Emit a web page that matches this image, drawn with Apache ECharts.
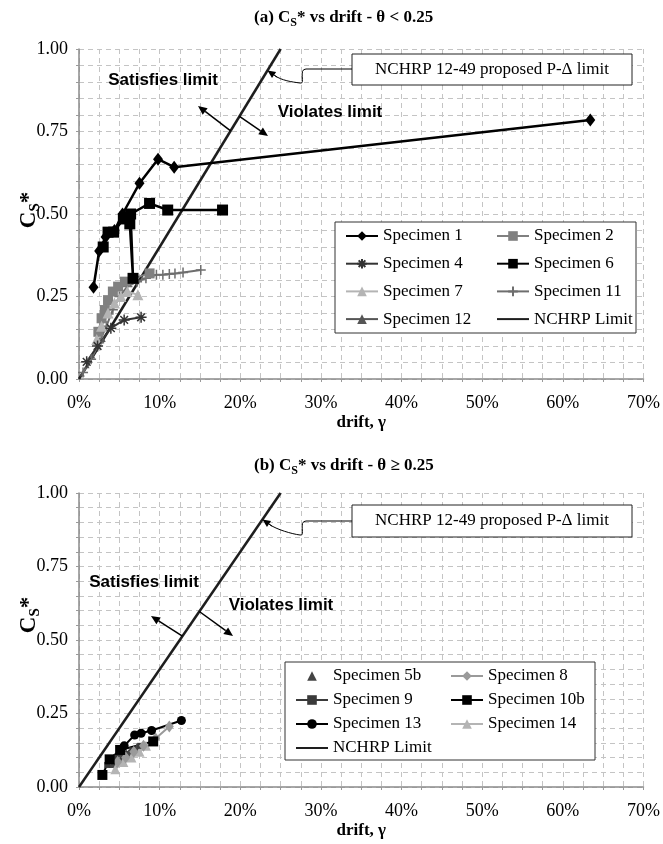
<!DOCTYPE html>
<html><head><meta charset="utf-8">
<script src="https://cdn.jsdelivr.net/npm/echarts@6/dist/echarts.min.js"></script>
<style>html,body{margin:0;padding:0;background:#fff}#c{width:663px;height:844px}</style>
</head><body><div id="c"></div>
<script>
// ---------- DATA (drift in %, Cs*) ----------
const xTicks = [0,10,20,30,40,50,60,70];
const yTicks = [0,0.25,0.5,0.75,1.0];
const limitDrift = [0, 25];
const limitCs = [0, 1.0];
// (a) theta < 0.25
const s1Drift = [1.8,2.5,3.3,4.4,5.4,7.5,9.8,11.8,63.4];
const s1Cs    = [0.278,0.388,0.43,0.45,0.50,0.593,0.666,0.642,0.785];
const s2Drift = [2.4,2.8,3.2,3.6,4.2,4.85,5.7,6.7,8.75];
const s2Cs    = [0.143,0.184,0.209,0.239,0.265,0.28,0.295,0.305,0.32];
const s4Drift = [0.95,2.3,3.95,5.6,7.7];
const s4Cs    = [0.052,0.10,0.154,0.179,0.187];
const s6Drift = [3.0,3.6,4.3,5.5,6.3,6.7,6.4,8.75,11.0,17.8];
const s6Cs    = [0.40,0.445,0.445,0.485,0.47,0.305,0.50,0.532,0.512,0.512];
const s7Drift = [2.2,2.8,3.6,4.4,5.2,6.0,7.3];
const s7Cs    = [0.12,0.16,0.20,0.23,0.25,0.265,0.255];
const s11Drift = [0.5,1.5,2.5,3.4,4.2,5.0,6.0,7.2,8.3,9.6,10.4,11.2,11.9,12.9,15.1];
const s11Cs    = [0.02,0.06,0.11,0.16,0.21,0.25,0.28,0.295,0.305,0.316,0.316,0.318,0.32,0.323,0.33];
const s12Drift = [0.4,1.0,1.7,2.4,3.0];
const s12Cs    = [0.015,0.04,0.07,0.10,0.12];
// (b) theta >= 0.25
const s5bDrift = [4.2,5.3,6.2,7.2];
const s5bCs    = [0.08,0.10,0.115,0.135];
const s8Drift = [4.8,5.8,6.8,8.0,9.5,11.2];
const s8Cs    = [0.086,0.10,0.12,0.14,0.165,0.206];
const s9Drift = [3.5,4.6,5.6,6.6,7.6];
const s9Cs    = [0.075,0.10,0.115,0.125,0.14];
const s10bDrift = [2.9,3.8,5.1,9.2];
const s10bCs    = [0.041,0.094,0.126,0.155];
const s13Drift = [5.6,6.9,7.7,9.0,12.7];
const s13Cs    = [0.14,0.177,0.183,0.192,0.226];
const s14Drift = [4.5,5.5,6.5,7.5,8.3];
const s14Cs    = [0.06,0.085,0.10,0.12,0.14];

// ---------- CHART ----------
const SERIF = '"Liberation Serif","Times New Roman",serif';
const SANS = '"Liberation Sans",Arial,sans-serif';
const chart = echarts.init(document.getElementById('c'), null, {renderer:'canvas'});
const pts = (xs, ys) => xs.map((x,i)=>[x, ys[i]]);
const AST = 'path://M5 0L5 10M0 5L10 5M1.5 1.5L8.5 8.5M8.5 1.5L1.5 8.5';
const PLUS = 'path://M5 0L5 10M0 5L10 5';
function mk(name, xs, ys, gi, color, lw, symbol, size, extra) {
  return Object.assign({
    name, type:'line', xAxisIndex:gi, yAxisIndex:gi, data: pts(xs, ys),
    symbol, symbolSize: size, showSymbol: symbol !== 'none',
    lineStyle:{color, width: lw}, itemStyle:{color, borderColor:color, borderWidth:0},
    animation:false, silent:true, emphasis:{disabled:true}
  }, extra || {});
}
const strokeSym = c => ({itemStyle:{color:c, borderColor:c, borderWidth:1.5}});
const isTick = (v, list) => list.some(t => Math.abs(t - v) < 1e-6);

const gridLine = {show:true, lineStyle:{color:'#c4c4c4', type:[5,4], width:1}};
function xAx(gi){ return {
  gridIndex:gi, type:'value', min:0, max:70, interval:2.5,
  axisLine:{show:true, onZero:false, lineStyle:{color:'#8a8a8a', width:1.5}},
  axisTick:{show:true, length:3, lineStyle:{color:'#9a9a9a'}},
  splitLine:gridLine,
  axisLabel:{formatter: v => isTick(v, xTicks) ? Math.round(v)+'%' : '', color:'#000', fontFamily:SERIF, fontSize:18, margin:15},
  name:'drift, γ', nameLocation:'middle', nameGap:35,
  nameTextStyle:{color:'#000', fontFamily:SERIF, fontWeight:'bold', fontSize:17}
};}
function yAx(gi){ return {
  gridIndex:gi, type:'value', min:0, max:1, interval:0.05,
  axisLine:{show:true, onZero:false, lineStyle:{color:'#8a8a8a', width:1.5}},
  axisTick:{show:true, length:3, lineStyle:{color:'#9a9a9a'}},
  splitLine:gridLine,
  axisLabel:{formatter: v => isTick(v, yTicks) ? v.toFixed(2) : '', color:'#000', fontFamily:SERIF, fontSize:18, margin:11}
};}
const titleRich = {
  a:{fontFamily:SERIF, fontWeight:'bold', fontSize:17, color:'#000', lineHeight:20, verticalAlign:'top'},
  s:{fontFamily:SERIF, fontWeight:'bold', fontSize:12, color:'#000', lineHeight:14, padding:[8,0,0,0], verticalAlign:'top'}
};
const legText = {fontFamily:SERIF, fontSize:17, color:'#000', lineHeight:18};
const limitItem = {name:'NCHRP Limit', itemStyle:{opacity:0}};
function leg(data, left, top, gap){ return {
  data, orient:'vertical', left, top, itemGap:gap, itemWidth:32, itemHeight:12, padding:0,
  selectedMode:false, textStyle:legText, z:10
};}

const series = [
  mk('NCHRP Limit', limitDrift, limitCs, 0, '#1e1e1e', 2.5, 'none', 0, {z:1}),
  mk('Specimen 12', s12Drift, s12Cs, 0, '#555555', 1, 'triangle', 5),
  mk('Specimen 11', s11Drift, s11Cs, 0, '#6e6e6e', 2, PLUS, 10, strokeSym('#6e6e6e')),
  mk('Specimen 2', s2Drift, s2Cs, 0, '#808080', 2, 'rect', 10),
  mk('Specimen 7', s7Drift, s7Cs, 0, '#b4b4b4', 2, 'triangle', 11),
  mk('Specimen 4', s4Drift, s4Cs, 0, '#333333', 2, AST, 11, strokeSym('#333333')),
  mk('Specimen 1', s1Drift, s1Cs, 0, '#000000', 2.5, 'diamond', [10,13]),
  mk('Specimen 6', s6Drift, s6Cs, 0, '#000000', 2.5, 'rect', 11),
  mk('NCHRP Limit', limitDrift, limitCs, 1, '#1e1e1e', 2.5, 'none', 0, {z:1}),
  mk('Specimen 5b', s5bDrift, s5bCs, 1, '#444444', 0, 'triangle', 9, {lineStyle:{width:0, opacity:0}}),
  mk('Specimen 14', s14Drift, s14Cs, 1, '#b4b4b4', 2, 'triangle', 10),
  mk('Specimen 9', s9Drift, s9Cs, 1, '#3a3a3a', 2, 'rect', 6),
  mk('Specimen 8', s8Drift, s8Cs, 1, '#9a9a9a', 2, 'diamond', [9,12]),
  mk('Specimen 10b', s10bDrift, s10bCs, 1, '#000000', 2, 'rect', 10),
  mk('Specimen 13', s13Drift, s13Cs, 1, '#000000', 2, 'circle', 9)
];

const option = {
  backgroundColor:'#fff',
  animation:false,
  title:[
    {text:'{a|(a) C}{s|S}{a|* vs drift - θ < 0.25}', left:254, top:9, padding:0, textStyle:{rich:titleRich}},
    {text:'{a|(b) C}{s|S}{a|* vs drift - θ ≥ 0.25}', left:254, top:457, padding:0, textStyle:{rich:titleRich}}
  ],
  grid:[
    {left:79, right:16, top:49, height:330},
    {left:79, right:16, top:493, height:294}
  ],
  xAxis:[xAx(0), xAx(1)],
  yAxis:[yAx(0), yAx(1)],
  legend:[
    leg(['Specimen 1','Specimen 4','Specimen 7','Specimen 12'], 345, 227, 9.7),
    leg(['Specimen 2','Specimen 6','Specimen 11', limitItem], 496, 227, 9.7),
    leg(['Specimen 5b','Specimen 9','Specimen 13', limitItem], 295, 667, 6),
    leg(['Specimen 8','Specimen 10b','Specimen 14'], 450, 667, 6)
  ],
  series
};
chart.setOption(option);

// ---------- ANNOTATIONS ----------
const P = (g, d, c) => chart.convertToPixel({gridIndex:g}, [d, c]);
const onLine = (g, c) => P(g, c/4*100, c);
function arrow(p0, p1, w, head) {
  const dx = p1[0]-p0[0], dy = p1[1]-p0[1], L = Math.hypot(dx,dy), ux = dx/L, uy = dy/L;
  const h = head || 9, hw = h*0.45;
  const bx = p1[0]-ux*h, by = p1[1]-uy*h;
  return [
    {type:'line', shape:{x1:p0[0], y1:p0[1], x2:bx, y2:by}, style:{stroke:'#000', lineWidth:w}, z:5, silent:true},
    {type:'polygon', shape:{points:[[p1[0],p1[1]],[bx-uy*hw, by+ux*hw],[bx+uy*hw, by-ux*hw]]}, style:{fill:'#000'}, z:5, silent:true}
  ];
}
function txt(x, y, text, font, size, weight) {
  return {type:'text', x, y, style:{text, fill:'#000', font: (weight||'normal')+' '+size+'px '+font, align:'center', verticalAlign:'middle'}, z:6, silent:true};
}
function connector(bx, by, tip) {
  const a = [bx-46, by];
  const b = [bx-52, by+14];
  return [
    {type:'line', shape:{x1:bx, y1:by, x2:a[0], y2:a[1]}, style:{stroke:'#000', lineWidth:1}, z:5, silent:true},
    {type:'bezierCurve', shape:{x1:a[0], y1:a[1], cpx1:a[0]-8, cpy1:a[1], cpx2:b[0]+6, cpy2:b[1]+2, x2:b[0], y2:b[1]}, style:{stroke:'#000', lineWidth:1, fill:null}, z:5, silent:true},
    {type:'bezierCurve', shape:{x1:b[0], y1:b[1], cpx1:b[0]-8, cpy1:b[1]-1, cpx2:tip[0]+14, cpy2:tip[1]+10, x2:tip[0]+7, y2:tip[1]+5}, style:{stroke:'#000', lineWidth:1, fill:null}, z:5, silent:true},
    ...arrow([tip[0]+10, tip[1]+7], tip, 1, 8)
  ];
}
const yName = (x, y) => ({type:'text', x, y, rotation:Math.PI/2, silent:true, z:6,
  style:{text:'{a|C}{s|S}{a|*}', align:'center', verticalAlign:'middle',
    rich:{a:{fontFamily:SERIF, fontWeight:'bold', fontSize:23, fill:'#000', lineHeight:24, verticalAlign:'top'},
          s:{fontFamily:SERIF, fontWeight:'bold', fontSize:15, fill:'#000', lineHeight:16, padding:[10,0,0,0], verticalAlign:'top'}}}});

const g = [];
// legend frames
g.push({type:'rect', shape:{x:335, y:222, width:301, height:111}, style:{fill:'#fff', stroke:'#333', lineWidth:1}, z:3, silent:true});
g.push({type:'rect', shape:{x:285, y:662, width:310, height:98}, style:{fill:'#fff', stroke:'#333', lineWidth:1}, z:3, silent:true});
// y axis names
g.push(yName(30, 210));
g.push(yName(30, 615));
// (a) annotations
g.push({type:'rect', shape:{x:352, y:54, width:280, height:31}, style:{fill:'#fff', stroke:'#222', lineWidth:1}, z:4, silent:true});
g.push(txt(492, 70, 'NCHRP 12-49 proposed P-Δ limit', SERIF, 17));
g.push(...connector(352, 69, onLine(0, 0.935)));
g.push(txt(163, 80, 'Satisfies limit', SANS, 17, 'bold'));
g.push(txt(330, 112, 'Violates limit', SANS, 17, 'bold'));
g.push(...arrow(onLine(0, 0.752), [198, 106], 1.5));
g.push(...arrow(onLine(0, 0.796), [268, 136], 1.5));
// (b) annotations
g.push({type:'rect', shape:{x:352, y:505, width:280, height:32}, style:{fill:'#fff', stroke:'#222', lineWidth:1}, z:4, silent:true});
g.push(txt(492, 521, 'NCHRP 12-49 proposed P-Δ limit', SERIF, 17));
g.push(...connector(352, 521, onLine(1, 0.91)));
g.push(txt(144, 582, 'Satisfies limit', SANS, 17, 'bold'));
g.push(txt(281, 605, 'Violates limit', SANS, 17, 'bold'));
g.push(...arrow(onLine(1, 0.513), [151, 616], 1.5));
g.push(...arrow(onLine(1, 0.597), [233, 636], 1.5));

chart.setOption({graphic: g});
</script>
</body></html>
